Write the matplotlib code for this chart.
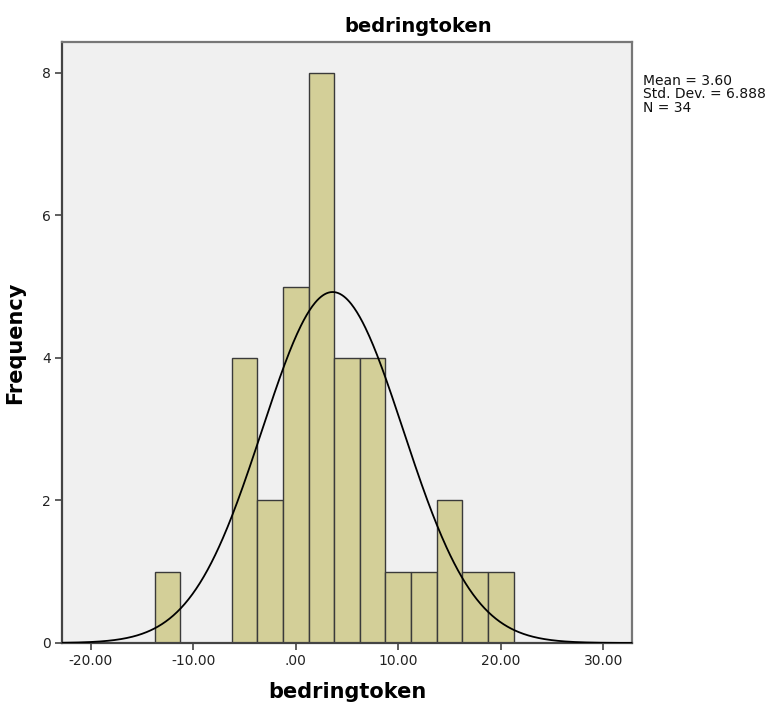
import numpy as np
import matplotlib
matplotlib.use("Agg")
import matplotlib.pyplot as plt

# dati (istogramma SPSS)
bin_edges = [-13.75, -11.25, -8.75, -6.25, -3.75, -1.25, 1.25, 3.75, 6.25,
             8.75, 11.25, 13.75, 16.25, 18.75, 21.25]
counts = [1, 0, 0, 4, 2, 5, 8, 4, 4, 1, 1, 2, 1, 1]
mean, sd, n = 3.60, 6.888, 34
xticks = [-20, -10, 0, 10, 20, 30]
xticklabels = ["-20.00", "-10.00", ".00", "10.00", "20.00", "30.00"]
yticks = [0, 2, 4, 6, 8]

W, H = 773, 713
fig = plt.figure(figsize=(W / 100, H / 100), dpi=100)
ax = fig.add_axes([62 / W, 1 - 643 / H, (632 - 62) / W, (643 - 42) / H])
ax.set_facecolor("#F0F0F0")

edges = np.array(bin_edges); bw = np.diff(edges)
ax.bar(edges[:-1], counts, width=bw, align="edge", color="#D3CF98",
       edgecolor="#3a3a3a", linewidth=1.0, zorder=2)

xs = np.linspace(-22.8, 32.8, 600)
w = bw[0]
ys = n * w / (sd * np.sqrt(2 * np.pi)) * np.exp(-0.5 * ((xs - mean) / sd) ** 2)
ax.plot(xs, ys, color="black", lw=1.3, zorder=3)

ax.set_xlim(-22.8, 32.8); ax.set_ylim(0, 8.43)
ax.set_xticks(xticks); ax.set_xticklabels(xticklabels)
ax.set_yticks(yticks)
ax.tick_params(direction="out", length=5, width=1.2, color="#444", labelsize=10,
               labelcolor="#222", pad=3)
for s in ["left", "bottom"]:
    ax.spines[s].set_color("#444"); ax.spines[s].set_linewidth(1.6)
for s in ["top", "right"]:
    ax.spines[s].set_color("#777"); ax.spines[s].set_linewidth(1.6)

ax.set_xlabel("bedringtoken", fontsize=15, fontweight="bold", labelpad=10)
ax.set_ylabel("Frequency", fontsize=15, fontweight="bold", labelpad=12)
fig.text(418 / W, 1 - 26 / H, "bedringtoken", fontsize=14, fontweight="bold",
         ha="center", va="center")
fig.text(643 / W, 1 - 74 / H, "Mean = %.2f\nStd. Dev. = %.3f\nN = %d" % (mean, sd, n),
         fontsize=10, ha="left", va="top", linespacing=0.95, color="#111")

fig.savefig("out.png", dpi=100)
